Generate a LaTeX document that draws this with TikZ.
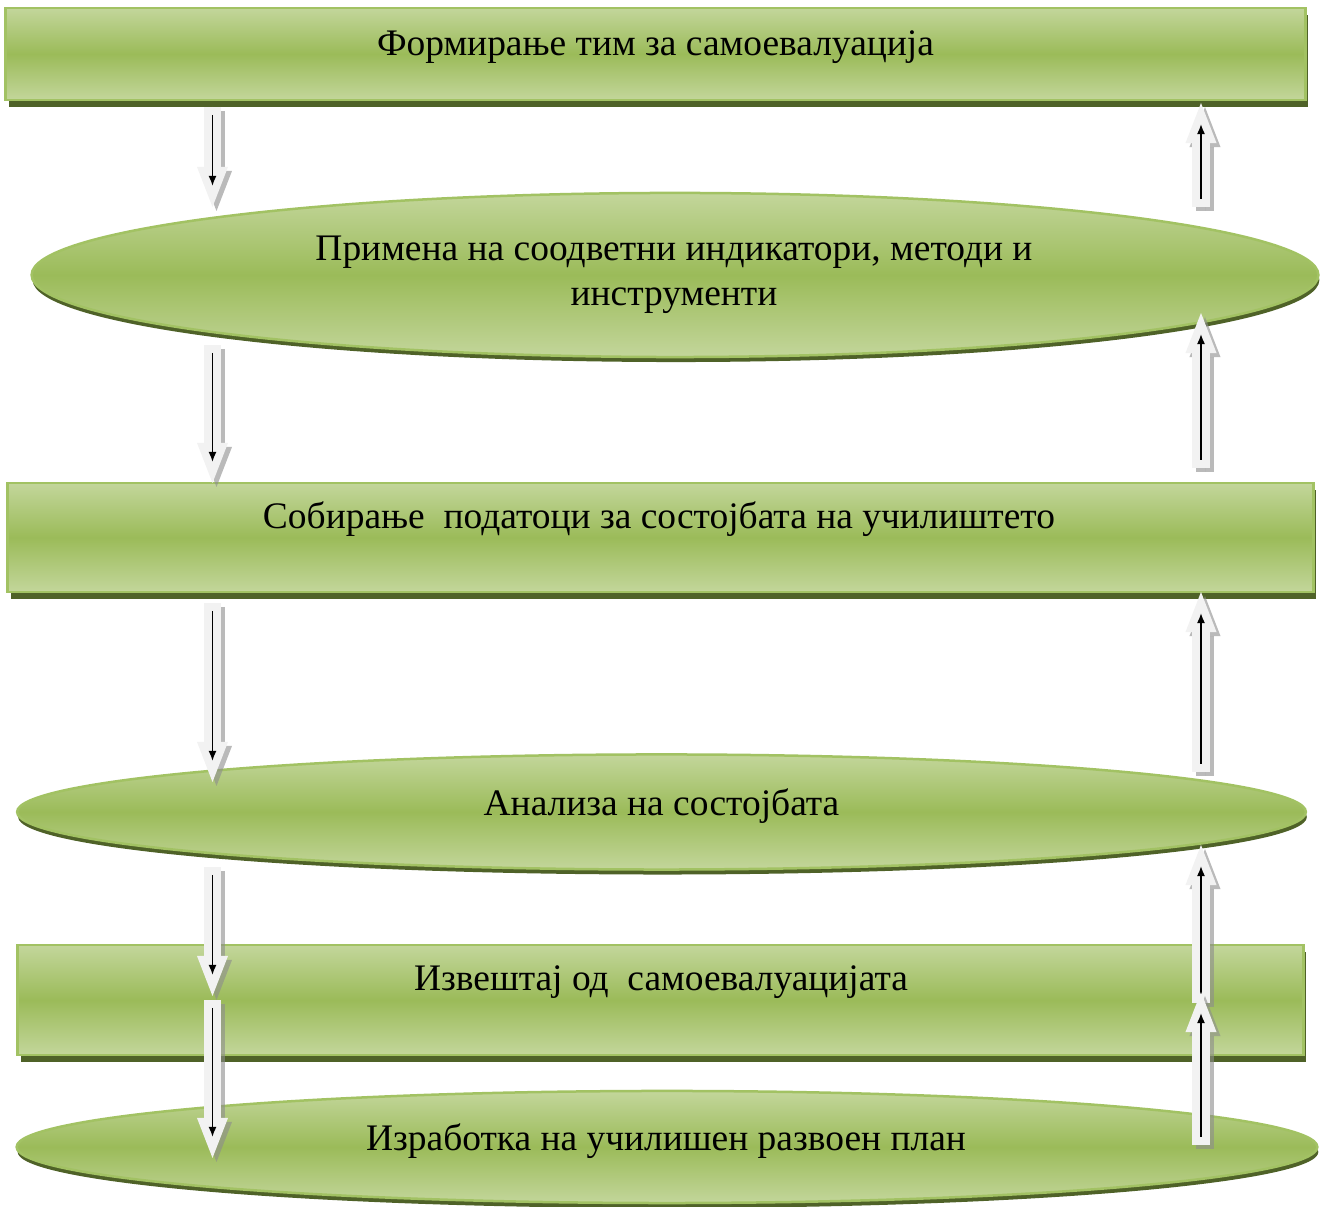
\documentclass[tikz,border=0pt]{standalone}
\usepackage{fontspec}
\setmainfont{Liberation Serif}
\usetikzlibrary{shapes.geometric,arrows.meta,shadows,calc}
\definecolor{leaflight}{HTML}{C3D69B}
\definecolor{leafmid}{HTML}{9BBB59}
\definecolor{leafedge}{HTML}{A2C263}
\definecolor{leafdark}{HTML}{4F6228}
\definecolor{arrowgrey}{HTML}{F2F2F2}
\definecolor{arrowdark}{HTML}{8C8C8C}
% block arrow with its shadow and the thin inner arrow
\newcommand{\blockarrow}[2]{%
  \draw[arrowshadow] ([shift={(4,4)}]#1) -- ([shift={(4,4)}]#2);
  \draw[arrowbody] (#1) -- (#2);
  \draw[arrowline] ($(#1)!0.08cm!(#2)$) -- ($(#2)!0.21cm!(#1)$);
}
\begin{document}
\begin{tikzpicture}[x=0.01cm,y=-0.01cm,font=\fontsize{10.65}{12.8}\selectfont]
  \tikzstyle{boxnode}=[rectangle, inner sep=0pt, draw=leafedge, line width=0.025cm,
    top color=leaflight, bottom color=leaflight, middle color=leafmid,
    general shadow={fill=leafdark, shadow xshift=0.03cm, shadow yshift=-0.07cm}]
  \tikzstyle{ovalnode}=[ellipse, inner sep=0pt, draw=leafedge, line width=0.025cm,
    top color=leaflight, bottom color=leaflight, middle color=leafmid,
    general shadow={fill=leafdark, shadow xshift=0.01cm, shadow yshift=-0.05cm}]
  \tikzstyle{textnode}=[anchor=base, align=center, inner sep=0pt]
  \tikzstyle{arrowbody}=[line width=0.17cm, draw=arrowgrey, fill=arrowgrey,
    -{Triangle[width=0.31cm,length=0.40cm,line width=0pt]}]
  \tikzstyle{arrowshadow}=[arrowbody, draw=arrowdark, fill=arrowdark, opacity=0.6]
  \tikzstyle{arrowline}=[line width=0.016cm, -{Latex[length=0.10cm,width=0.08cm]}]

  \useasboundingbox (0,0) rectangle (1323,1207);

  % steps
  \node[boxnode, minimum width=12.99cm, minimum height=0.92cm] (form) at (655.5,54) {};
  \node[ovalnode, minimum width=12.86cm, minimum height=1.64cm] (prim) at (675,275) {};
  \node[boxnode, minimum width=13.05cm, minimum height=1.09cm] (sobir) at (660.5,537.5) {};
  \node[ovalnode, minimum width=12.88cm, minimum height=1.15cm] (anal) at (661.5,812) {};
  \node[boxnode, minimum width=12.85cm, minimum height=1.10cm] (izv) at (660.5,1000) {};
  \node[ovalnode, minimum width=13.00cm, minimum height=1.12cm] (izrab) at (667,1147) {};

  % texts
  \node[textnode] (formt) at (655.5,56) {Формирање тим за самоевалуација};
  \node[textnode] (primt) at (674,306) {Примена на соодветни индикатори, методи и\\инструменти};
  \node[textnode] (sobirt) at (659,529) {Собирање\ \ податоци за состојбата на училиштето};
  \node[textnode] (analt) at (661.5,816) {Анализа на состојбата};
  \node[textnode] (izvt) at (661,991) {Извештај од\ \ самоевалуацијата};
  \node[textnode] (izrabt) at (666,1151) {Изработка на училишен развоен план};

  % arrow ends
  \foreach \n/\ya/\yb in {1/107/207, 2/345/483, 3/603/782, 4/867/996, 5/1000/1158}
    {\coordinate (down\n s) at (212.5,\ya); \coordinate (down\n e) at (212.5,\yb);}
  \foreach \n/\ya/\yb in {1/207/103, 2/468/313, 3/772/592, 4/1003/845, 5/1145/992}
    {\coordinate (up\n s) at (1201,\ya); \coordinate (up\n e) at (1201,\yb);}

  % arrows
  \foreach \n in {1,...,5}
    {\blockarrow{down\n s}{down\n e} \blockarrow{up\n s}{up\n e}}
\end{tikzpicture}
\end{document}
